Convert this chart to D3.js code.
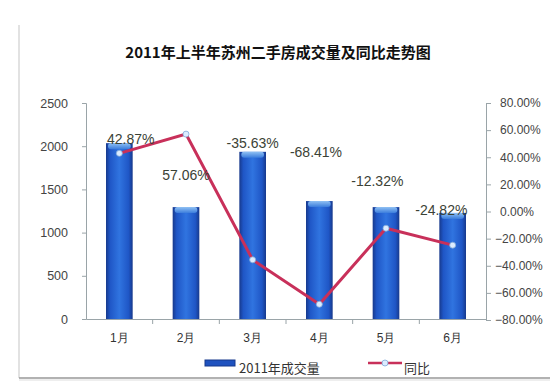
<!DOCTYPE html>
<html><head><meta charset="utf-8">
<script src="https://cdn.jsdelivr.net/npm/d3@7"></script>
<style>body{margin:0;background:#fff;}svg{display:block;font-family:"Noto Sans CJK SC","DejaVu Sans",sans-serif;}</style>
</head><body>
<svg id="c" width="550" height="388"></svg>
<script>
const months = ["1月","2月","3月","4月","5月","6月"];
const volume = [2035, 1295, 1935, 1365, 1295, 1228];
const yoy = [42.87, 57.06, -35.63, -68.41, -12.32, -24.82];
const yoyLabels = ["42.87%","57.06%","-35.63%","-68.41%","-12.32%","-24.82%"];
// where each (manually placed) data label sits, in left-axis units, and its x shift in band fractions
const labelAt = [2080, 1665, 2035, 1930, 1600, 1260];
const labelShift = [0.17, 0.0, 0.0, -0.05, -0.13, -0.17];
const leftTicks = [0, 500, 1000, 1500, 2000, 2500];
const rightTicks = [80, 60, 40, 20, 0, -20, -40, -60, -80];
const title = "2011年上半年苏州二手房成交量及同比走势图";
const legendBar = "2011年成交量", legendLine = "同比";

const svg = d3.select("#c");
const L = 86, R = 486, T = 103, B = 319;
const x = d3.scaleBand().domain(months).range([L, R]).paddingInner(0.6).paddingOuter(0.3);
const xb = d3.scaleBand().domain(months).range([L, R]);
const y = d3.scaleLinear().domain([0, 2500]).range([B, T]);
const y2 = d3.scaleLinear().domain([-80, 80]).range([B + 1, T]);

const defs = svg.append("defs");
const g1 = defs.append("linearGradient").attr("id", "bar").attr("x1", 0).attr("x2", 1).attr("y1", 0).attr("y2", 0);
[[0, "#17398c"], [0.15, "#1f56c6"], [0.5, "#3074e0"], [0.85, "#1f56c6"], [1, "#17398c"]].forEach(s => g1.append("stop").attr("offset", s[0]).attr("stop-color", s[1]));
const g2 = defs.append("linearGradient").attr("id", "cap").attr("x1", 0).attr("x2", 0).attr("y1", 0).attr("y2", 1);
[[0, "#8fc0f3"], [1, "#3a7cdc"]].forEach(s => g2.append("stop").attr("offset", s[0]).attr("stop-color", s[1]));

// frame lines
svg.append("line").attr("x1", 19).attr("x2", 19).attr("y1", 25).attr("y2", 378).attr("stroke", "#d8d8d8").attr("stroke-width", 1.5);
svg.append("line").attr("x1", 19).attr("x2", 550).attr("y1", 378).attr("y2", 378).attr("stroke", "#999").attr("stroke-width", 1.5);
svg.append("line").attr("x1", 19).attr("x2", 550).attr("y1", 380).attr("y2", 380).attr("stroke", "#ddd").attr("stroke-width", 1);

svg.append("text").attr("x", 278).attr("y", 58).attr("text-anchor", "middle")
  .attr("font-size", 15).attr("font-weight", "bold").attr("fill", "#111").text(title);

// left axis
const la = svg.append("g").attr("transform", `translate(${L},0)`)
  .call(d3.axisLeft(y).tickValues(leftTicks).tickSize(4).tickPadding(14).tickFormat(d3.format("d")));
la.selectAll("path,line").attr("stroke", "#9aa4a8");
la.selectAll("text").attr("font-size", 12.5).attr("fill", "#444").attr("font-family", "Liberation Sans, sans-serif");

// right axis
const ra = svg.append("g").attr("transform", `translate(${R},0)`)
  .call(d3.axisRight(y2).tickValues(rightTicks).tickSize(5).tickPadding(9).tickFormat(d => d3.format(".2f")(d) + "%"));
ra.selectAll("path,line").attr("stroke", "#9aa4a8");
ra.selectAll("text").attr("font-size", 12).attr("fill", "#444").attr("font-family", "Liberation Sans, sans-serif")
  .attr("dx", d => d < 0 ? -5 : 0);

// x axis
const xa = svg.append("g").attr("transform", `translate(0,${B})`)
  .call(d3.axisBottom(xb).tickSize(0).tickPadding(14));
xa.select("path").attr("stroke", "#9aa4a8");
xa.selectAll("text").attr("font-size", 12).attr("fill", "#333");
svg.append("g").selectAll("line").data(months.slice(1)).join("line")
  .attr("x1", d => xb(d)).attr("x2", d => xb(d)).attr("y1", B).attr("y2", B + 5).attr("stroke", "#9aa4a8");

// bars
const bars = svg.append("g");
months.forEach((m, i) => {
  const bx = x(m), bw = x.bandwidth(), top = y(volume[i]);
  bars.append("rect").attr("x", bx).attr("y", top).attr("width", bw).attr("height", B - top).attr("fill", "url(#bar)");
  bars.append("rect").attr("x", bx + 2).attr("y", top).attr("width", bw - 4).attr("height", 6).attr("rx", 3).attr("fill", "url(#cap)");
});

// line
const line = d3.line().x((d, i) => xb(months[i]) + xb.bandwidth() / 2).y(d => y2(d));
svg.append("path").datum(yoy).attr("d", line).attr("fill", "none").attr("stroke", "#c8305a").attr("stroke-width", 3);
svg.append("g").selectAll("circle").data(yoy).join("circle")
  .attr("cx", (d, i) => xb(months[i]) + xb.bandwidth() / 2).attr("cy", d => y2(d)).attr("r", 3)
  .attr("fill", "#dcecff").attr("stroke", "#7fa8d8").attr("stroke-width", 0.8);

// labels
svg.append("g").selectAll("text").data(yoyLabels).join("text")
  .attr("x", (d, i) => xb(months[i]) + xb.bandwidth() * (0.5 + labelShift[i]))
  .attr("y", (d, i) => y(labelAt[i]) + 5)
  .attr("text-anchor", "middle").attr("font-size", 14).attr("fill", "#3b4236")
  .attr("font-family", "Liberation Sans, sans-serif").text(d => d);

// legend
svg.append("rect").attr("x", 205).attr("y", 360).attr("width", 30).attr("height", 6).attr("fill", "#1f52bf").attr("stroke", "#17398c");
svg.append("text").attr("x", 239).attr("y", 373).attr("font-size", 13).attr("fill", "#333").text(legendBar);
svg.append("line").attr("x1", 368).attr("x2", 402).attr("y1", 363).attr("y2", 363).attr("stroke", "#c8305a").attr("stroke-width", 2.5);
svg.append("circle").attr("cx", 385).attr("cy", 363).attr("r", 3).attr("fill", "#dcecff").attr("stroke", "#7fa8d8").attr("stroke-width", 0.8);
svg.append("text").attr("x", 404).attr("y", 373).attr("font-size", 13).attr("fill", "#333").text(legendLine);
</script>
</body></html>
